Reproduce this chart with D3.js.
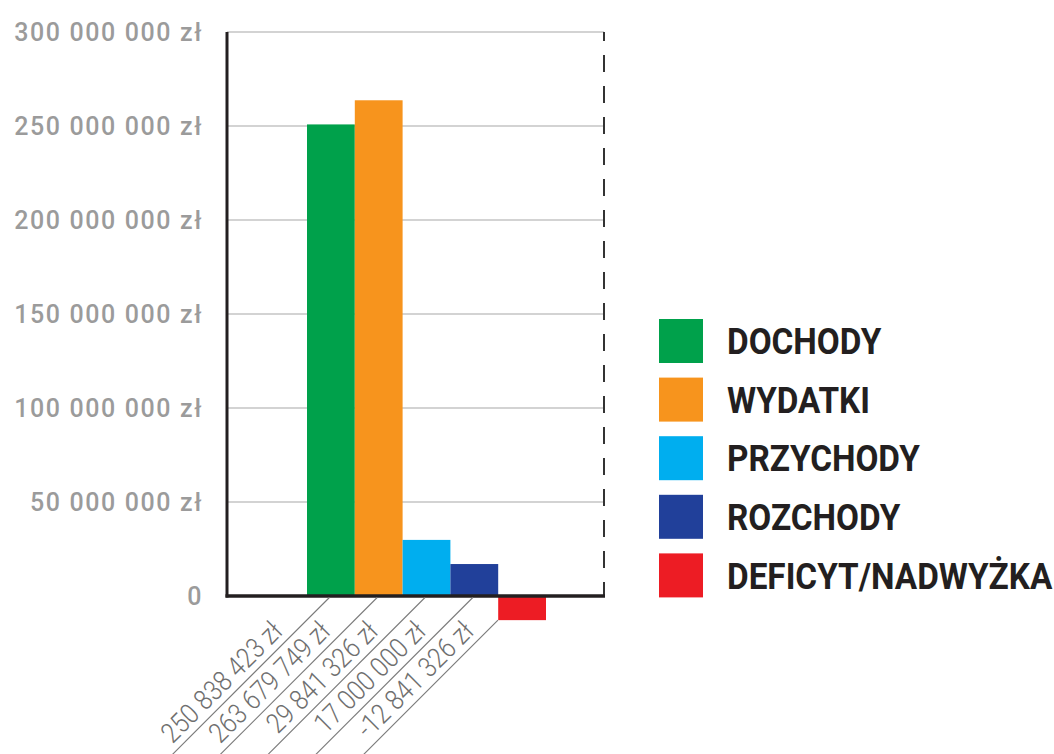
<!DOCTYPE html>
<html>
<head>
<meta charset="utf-8">
<script src="https://cdn.jsdelivr.net/npm/d3@7"></script>
<style>
  html, body { margin: 0; padding: 0; background: #ffffff; }
  svg { display: block; }
</style>
</head>
<body>
<svg id="chart" width="1054" height="754"></svg>
<script>
// Budget summary (PLN)
const categories = ["DOCHODY", "WYDATKI", "PRZYCHODY", "ROZCHODY", "DEFICYT/NADWYŻKA"];
const values = [250838423, 263679749, 29841326, 17000000, -12841326];
const colors = ["#00a14b", "#f7941d", "#00aeef", "#21409a", "#ed1c24"];
const yTicks = [0, 50000000, 100000000, 150000000, 200000000, 250000000, 300000000];

const plLocale = d3.formatLocale({
  decimal: ",", thousands: " ", grouping: [3], currency: ["", " zł"], minus: "-"
});
const fmtMoney = plLocale.format("$,");
const fmtTick = v => v === 0 ? "0" : fmtMoney(v);

const svg = d3.select("#chart");

// plot frame
const plotLeft = 227, plotRight = 604, plotTop = 32, plotBottom = 596;

const y = d3.scaleLinear().domain([0, 300000000]).range([plotBottom, plotTop]);
const x = d3.scaleBand().domain(categories).range([307, 546]).padding(0);

// horizontal gridlines
svg.append("g")
  .selectAll("line")
  .data(yTicks.filter(d => d > 0))
  .join("line")
  .attr("x1", plotLeft).attr("x2", plotRight)
  .attr("y1", d => y(d)).attr("y2", d => y(d))
  .attr("stroke", "#c4c4c4")
  .attr("stroke-width", 1.3);

// y tick labels
svg.append("g")
  .selectAll("text")
  .data(yTicks)
  .join("text")
  .attr("x", 203)
  .attr("y", d => y(d))
  .attr("dy", "0.36em")
  .attr("text-anchor", "end")
  .attr("font-family", "Roboto")
  .attr("font-weight", 500)
  .attr("font-size", 25)
  .attr("letter-spacing", 1.6)
  .attr("fill", "#9b9b9b")
  .text(fmtTick);

// bars
svg.append("g")
  .selectAll("rect")
  .data(categories)
  .join("rect")
  .attr("x", d => x(d))
  .attr("width", x.bandwidth())
  .attr("y", (d, i) => y(Math.max(0, values[i])))
  .attr("height", (d, i) => Math.abs(y(values[i]) - y(0)))
  .attr("fill", (d, i) => colors[i]);

// right dashed border
svg.append("line")
  .attr("x1", plotRight).attr("x2", plotRight)
  .attr("y1", plotTop).attr("y2", plotBottom)
  .attr("stroke", "#333333")
  .attr("stroke-width", 2)
  .attr("stroke-dasharray", "17,14")
  .attr("stroke-dashoffset", 8);

// left axis and baseline
svg.append("line")
  .attr("x1", plotLeft).attr("x2", plotLeft)
  .attr("y1", plotTop).attr("y2", plotBottom + 1.5)
  .attr("stroke", "#231f20")
  .attr("stroke-width", 3);
svg.append("line")
  .attr("x1", plotLeft - 1.5).attr("x2", plotRight + 1)
  .attr("y1", y(0)).attr("y2", y(0))
  .attr("stroke", "#231f20")
  .attr("stroke-width", 3.5);

// diagonal leader lines and value labels
const labels = svg.append("g");
categories.forEach((c, i) => {
  const cx = x(c) + x.bandwidth() / 2;
  const startY = Math.max(y(0) + 1.5, y(values[i]));
  const endY = 800;
  labels.append("line")
    .attr("x1", cx - (startY - y(0)))
    .attr("y1", startY)
    .attr("x2", cx - (endY - y(0)))
    .attr("y2", endY)
    .attr("stroke", "#7a7a7a")
    .attr("stroke-width", 1.1);
  const ex = cx - 42 - 5, ey = y(0) + 42 - 5;
  labels.append("text")
    .attr("transform", `translate(${ex},${ey}) rotate(-45) scale(0.87,1)`)
    .attr("text-anchor", "end")
    .attr("font-family", "Roboto")
    .attr("font-weight", 300)
    .attr("font-size", 28)
    .attr("fill", "#6f6f6f")
    .text(fmtMoney(values[i]));
});

// legend
const legend = svg.append("g");
categories.forEach((c, i) => {
  const ly = 319 + i * 58.6;
  legend.append("rect")
    .attr("x", 659).attr("y", ly)
    .attr("width", 44).attr("height", 44)
    .attr("fill", colors[i]);
  legend.append("text")
    .attr("transform", `translate(727,${ly + 22}) scale(0.9,1)`)
    .attr("dy", "0.355em")
    .attr("font-family", "Roboto")
    .attr("font-weight", 700)
    .attr("font-size", 37)
    .attr("fill", "#231f20")
    .text(c);
});
</script>
</body>
</html>
